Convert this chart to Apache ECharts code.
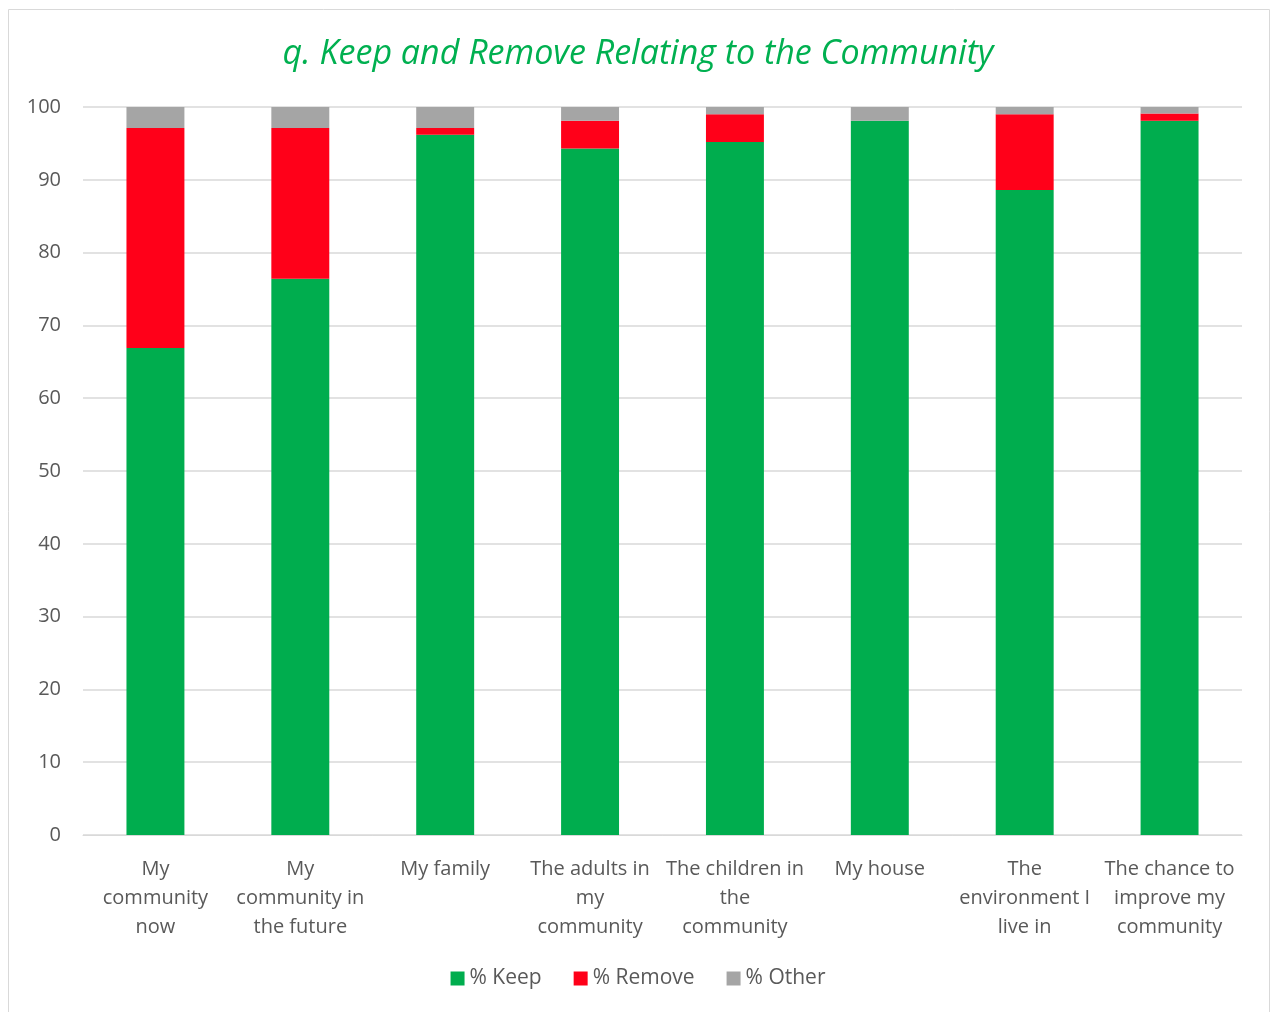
<!DOCTYPE html>
<html><head><meta charset="utf-8">
<script src="https://cdn.jsdelivr.net/npm/echarts@6/dist/echarts.min.js"></script>
<style>html,body{margin:0;padding:0;background:#fff}#c{width:1276px;height:1012px}</style>
</head><body><div id="c"></div>
<script>
const categories = ["My\ncommunity\nnow","My\ncommunity in\nthe future","My family","The adults in\nmy\ncommunity","The children in\nthe\ncommunity","My house","The\nenvironment I\nlive in","The chance to\nimprove my\ncommunity"];
const keep   = [66.9, 76.4, 96.2, 94.3, 95.2, 98.1, 88.6, 98.1];
const remove = [30.2, 20.7, 0.9, 3.8, 3.8, 0, 10.4, 1.0];
const other  = [2.9, 2.9, 2.9, 1.9, 1.0, 1.9, 1.0, 0.9];
const yTicks = [0,10,20,30,40,50,60,70,80,90,100];

const chart = echarts.init(document.getElementById('c'), null, {renderer:'canvas'});
const font = '"Open Sans", "Noto Sans", sans-serif';
chart.setOption({
  animation:false,
  graphic:[{type:'rect',shape:{x:8.5,y:9.5,width:1261,height:1010},style:{fill:'none',stroke:'#d9d9d9',lineWidth:1},silent:true}],
  title:{text:'q. Keep and Remove Relating to the Community',left:'center',top:32,
    textStyle:{color:'#00b050',fontStyle:'italic',fontWeight:'normal',fontSize:34,fontFamily:font}},
  legend:{bottom:18,left:'center',itemWidth:14,itemHeight:14,itemGap:32,icon:'rect',
    textStyle:{color:'#595959',fontSize:21,fontFamily:font}},
  grid:{left:83,right:34,top:107,bottom:177},
  xAxis:{type:'category',data:categories,
    axisLine:{lineStyle:{color:'#d9d9d9'}},axisTick:{show:false},
    axisLabel:{color:'#595959',fontSize:20,fontFamily:font,lineHeight:29,margin:20,interval:0}},
  yAxis:{type:'value',min:yTicks[0],max:yTicks[yTicks.length-1],interval:10,
    axisLine:{show:false},axisTick:{show:false},
    splitLine:{lineStyle:{color:'#d9d9d9',width:1.5}},
    axisLabel:{color:'#595959',fontSize:20,fontFamily:font,margin:22}},
  series:[
    {name:'% Keep',type:'bar',stack:'s',data:keep,barWidth:'40%',itemStyle:{color:'#00ad4e'}},
    {name:'% Remove',type:'bar',stack:'s',data:remove,itemStyle:{color:'#ff0019'}},
    {name:'% Other',type:'bar',stack:'s',data:other,itemStyle:{color:'#a5a5a5'}}
  ]
});
</script></body></html>
